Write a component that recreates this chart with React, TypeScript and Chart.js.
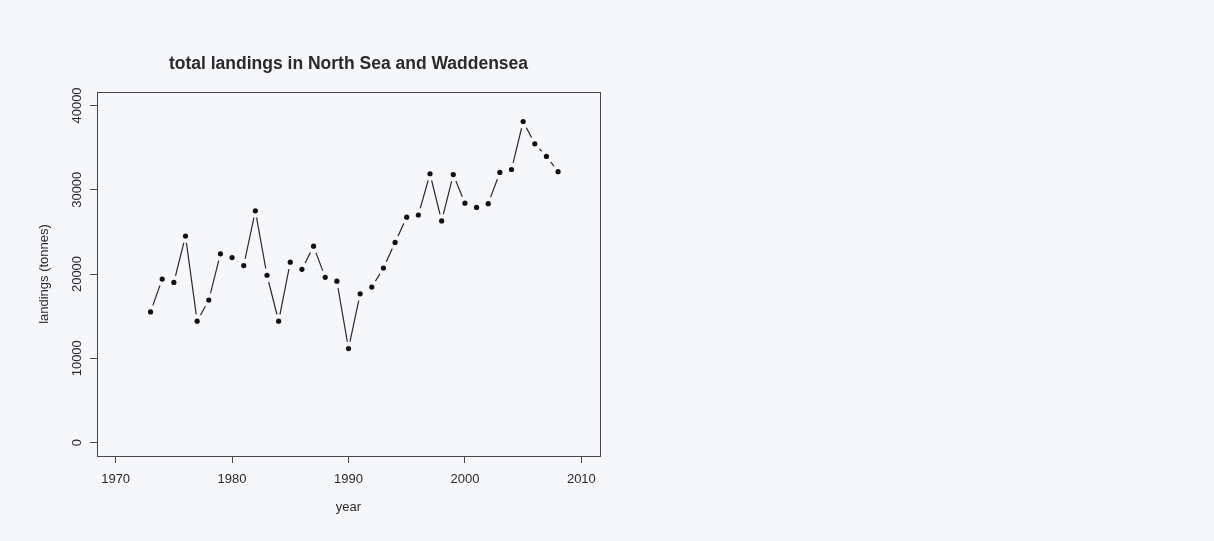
import React, { useEffect, useRef } from "react";
import { Chart, registerables } from "chart.js";

Chart.register(...registerables);

const years: number[] = [
  1973, 1974, 1975, 1976, 1977, 1978, 1979, 1980, 1981, 1982, 1983, 1984,
  1985, 1986, 1987, 1988, 1989, 1990, 1991, 1992, 1993, 1994, 1995, 1996,
  1997, 1998, 1999, 2000, 2001, 2002, 2003, 2004, 2005, 2006, 2007, 2008,
];
const landings: number[] = [
  15500, 19400, 19000, 24500, 14400, 16900, 22400, 21950, 21000, 27500, 19850, 14400,
  21400, 20550, 23300, 19600, 19150, 11150, 17650, 18450, 20700, 23750, 26750, 27000,
  31900, 26300, 31800, 28400, 27900, 28350, 32050, 32400, 38100, 35450, 33950, 32150,
];
const xTicks: number[] = [1970, 1980, 1990, 2000, 2010];
const yTicks: number[] = [0, 10000, 20000, 30000, 40000];
const titleText = "total landings in North Sea and Waddensea";
const xLabel = "year";
const yLabel = "landings (tonnes)";

const BG = "#f6f7fb";
const INK = "#2a2a2a";
const LINE = "#474747";
const FONT = "'Liberation Sans', Arial, sans-serif";

export default function App() {
  const ref = useRef<HTMLCanvasElement | null>(null);

  useEffect(() => {
    if (!ref.current) return;
    const pts = years.map((y, i) => ({ x: y, y: landings[i] }));

    const bgPlugin = {
      id: "bg",
      beforeDraw(chart: any) {
        const { ctx, width, height } = chart;
        ctx.save();
        ctx.fillStyle = BG;
        ctx.fillRect(0, 0, width, height);
        ctx.restore();
      },
    };
    const boxPlugin = {
      id: "box",
      afterDraw(chart: any) {
        const { ctx, chartArea } = chart;
        ctx.save();
        ctx.strokeStyle = LINE;
        ctx.lineWidth = 1;
        ctx.strokeRect(
          Math.round(chartArea.left) + 0.5,
          Math.round(chartArea.top) + 0.5,
          Math.round(chartArea.right - chartArea.left),
          Math.round(chartArea.bottom - chartArea.top)
        );
        ctx.restore();
      },
    };

    const chart = new Chart(ref.current, {
      type: "scatter",
      data: {
        datasets: [
          {
            data: pts,
            showLine: false,
            pointRadius: 2.6,
            pointBackgroundColor: "#111",
            pointBorderWidth: 0,
          },
          {
            data: pts,
            showLine: false,
            pointRadius: 7,
            pointBackgroundColor: BG,
            pointBorderWidth: 0,
          },
          {
            data: pts,
            showLine: true,
            pointRadius: 0,
            borderColor: "#2a2a2a",
            borderWidth: 1.2,
            fill: false,
          },
        ],
      },
      options: {
        animation: false,
        responsive: false,
        layout: { padding: { left: 0, top: 0, right: 614, bottom: 0 } },
        plugins: {
          legend: { display: false },
          tooltip: { enabled: false },
          title: {
            display: true,
            text: titleText,
            fullSize: false,
            color: INK,
            font: { family: FONT, size: 17.5, weight: "bold" },
            padding: { top: 53.5, bottom: 17.5 },
          },
        },
        scales: {
          x: {
            type: "linear",
            min: 1968.4,
            max: 2011.6,
            afterBuildTicks: (s: any) => {
              s.ticks = xTicks.map((v) => ({ value: v }));
            },
            afterFit: (s: any) => {
              s.height = 85;
            },
            grid: {
              drawOnChartArea: false,
              drawTicks: true,
              tickLength: 7,
              color: LINE,
            },
            border: { display: false },
            ticks: {
              color: INK,
              font: { family: FONT, size: 13 },
              padding: 9,
              maxRotation: 0,
              minRotation: 0,
              callback: (v: any) => String(v),
            },
            title: {
              display: true,
              text: xLabel,
              color: INK,
              font: { family: FONT, size: 13 },
              padding: { top: 0, bottom: 26 },
            },
          },
          y: {
            type: "linear",
            min: -1600,
            max: 41600,
            afterBuildTicks: (s: any) => {
              s.ticks = yTicks.map((v) => ({ value: v }));
            },
            afterFit: (s: any) => {
              s.width = 97;
            },
            grid: {
              drawOnChartArea: false,
              drawTicks: true,
              tickLength: 7,
              color: LINE,
            },
            border: { display: false },
            ticks: {
              color: INK,
              font: { family: FONT, size: 13 },
              padding: -5,
              minRotation: 90,
              maxRotation: 90,
              crossAlign: "center",
              callback: (v: any) => String(v),
            },
            title: {
              display: true,
              text: yLabel,
              color: INK,
              font: { family: FONT, size: 13 },
              padding: { top: 37, bottom: 0 },
            },
          },
        },
      },
      plugins: [bgPlugin, boxPlugin],
    });
    return () => chart.destroy();
  }, []);

  return (
    <div style={{ position: "absolute", left: 0, top: 0, width: 1214, height: 541 }}>
      <canvas ref={ref} width={1214} height={541} style={{ display: "block" }} />
    </div>
  );
}
